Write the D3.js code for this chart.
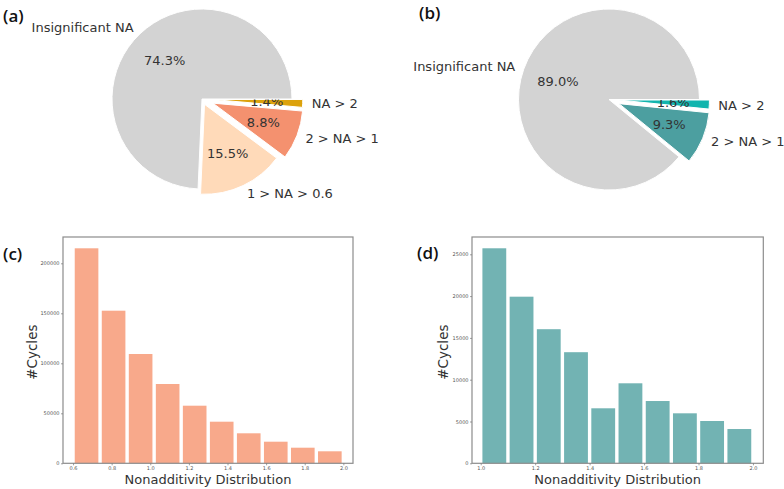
<!DOCTYPE html>
<html><head><meta charset="utf-8">
<script src="https://cdn.jsdelivr.net/npm/d3@7"></script>
<style>
body{margin:0;background:#fff;}
svg{display:block;font-family:"DejaVu Sans",sans-serif;}
</style></head>
<body>
<svg id="chart" width="784" height="489"></svg>
<script>
// ---------- data ----------
const pieALabels = ["NA > 2", "2 > NA > 1", "1 > NA > 0.6", "Insignificant NA"];
const pieAValues = [1.4, 8.8, 15.5, 74.3];
const pieBLabels = ["NA > 2", "2 > NA > 1", "Insignificant NA"];
const pieBValues = [1.6, 9.3, 89.0];

const histCEdges = [0.6, 0.74, 0.88, 1.02, 1.16, 1.30, 1.44, 1.58, 1.72, 1.86, 2.0];
const histCCounts = [215000, 152600, 109300, 79300, 57600, 41600, 30000, 21600, 15600, 12000];
const histCXTicks = [0.6, 0.8, 1.0, 1.2, 1.4, 1.6, 1.8, 2.0];
const histCYTicks = [0, 50000, 100000, 150000, 200000];

const histDEdges = [1.0, 1.1, 1.2, 1.3, 1.4, 1.5, 1.6, 1.7, 1.8, 1.9, 2.0];
const histDCounts = [25720, 19930, 16040, 13290, 6580, 9570, 7450, 5980, 5060, 4100];
const histDXTicks = [1.0, 1.2, 1.4, 1.6, 1.8, 2.0];
const histDYTicks = [0, 5000, 10000, 15000, 20000, 25000];

// ---------- styles ----------
const svg = d3.select("#chart");
const textCol = "#333";

function drawPie(cfg) {
  const g = svg.append("g").attr("transform", `translate(${cfg.cx},${cfg.cy})`);
  const pie = d3.pie().sort(null).value(d => d)
    .startAngle(Math.PI / 2).endAngle(Math.PI / 2 + 2 * Math.PI);
  const arcs = pie(cfg.values);
  const arc = d3.arc().innerRadius(0).outerRadius(cfg.r);
  arcs.forEach((a, i) => {
    const mid = (a.startAngle + a.endAngle) / 2;
    const off = cfg.explode[i] * cfg.r;
    const ox = Math.sin(mid) * off, oy = -Math.cos(mid) * off;
    const sg = g.append("g").attr("transform", `translate(${ox},${oy})`);
    sg.append("path").attr("d", arc(a)).attr("fill", cfg.colors[i])
      .attr("stroke", "#fff").attr("stroke-width", 1);
    const pr = cfg.r * 0.6;
    sg.append("text").attr("x", Math.sin(mid) * pr).attr("y", -Math.cos(mid) * pr)
      .attr("text-anchor", "middle").attr("dominant-baseline", "central")
      .attr("font-size", 13).attr("fill", textCol)
      .text(cfg.values[i].toFixed(1) + "%");
    const lr = cfg.r * 1.1;
    const lx = Math.sin(mid) * lr;
    sg.append("text").attr("x", lx).attr("y", -Math.cos(mid) * lr)
      .attr("text-anchor", lx > 0 ? "start" : "end").attr("dominant-baseline", "central")
      .attr("font-size", 13).attr("fill", textCol)
      .text(cfg.labels[i]);
  });
}

drawPie({cx: 202, cy: 99, r: 90, values: pieAValues, labels: pieALabels,
  colors: ["#dca20c", "#f4916f", "#ffdab9", "#d3d3d3"],
  explode: [0.12, 0.13, 0.065, 0]});
drawPie({cx: 609, cy: 99.5, r: 90.5, values: pieBValues, labels: pieBLabels,
  colors: ["#12b5ae", "#4c9fa0", "#d3d3d3"],
  explode: [0.11, 0.12, 0]});

function drawHist(cfg) {
  const x = d3.scaleLinear().domain(cfg.xDomain).range([cfg.x0, cfg.x1]);
  const y = d3.scaleLinear().domain(cfg.yDomain).range([cfg.y1, cfg.y0]);
  const g = svg.append("g");
  const gap = 3.4;
  g.selectAll("rect.bar").data(cfg.counts).join("rect").attr("class", "bar")
    .attr("x", (d, i) => x(cfg.edges[i]) + gap / 2)
    .attr("width", (d, i) => x(cfg.edges[i + 1]) - x(cfg.edges[i]) - gap)
    .attr("y", d => y(d)).attr("height", d => y(0) - y(d))
    .attr("fill", cfg.color);
  g.append("rect").attr("x", cfg.x0).attr("y", cfg.y0)
    .attr("width", cfg.x1 - cfg.x0).attr("height", cfg.y1 - cfg.y0)
    .attr("fill", "none").attr("stroke", "#8c8c8c").attr("stroke-width", 1.2);
  const xa = g.append("g").attr("transform", `translate(0,${cfg.y1})`)
    .call(d3.axisBottom(x).tickValues(cfg.xTicks).tickFormat(d3.format(".1f")).tickSize(2).tickPadding(1.5));
  const ya = g.append("g").attr("transform", `translate(${cfg.x0},0)`)
    .call(d3.axisLeft(y).tickValues(cfg.yTicks).tickFormat(d3.format("d")).tickSize(2).tickPadding(1.5));
  [xa, ya].forEach(a => {
    a.select(".domain").remove();
    a.selectAll("line").attr("stroke", "#777").attr("stroke-width", 0.7);
    a.selectAll("text").attr("font-size", 5).attr("fill", "#555").attr("font-family", "DejaVu Sans");
  });
  g.append("text").attr("transform", `translate(${cfg.ylx},${(cfg.y0 + cfg.y1) / 2 + 2}) rotate(-90)`)
    .attr("text-anchor", "middle").attr("dominant-baseline", "central")
    .attr("font-size", 13.5).attr("fill", textCol).text("#Cycles");
  g.append("text").attr("x", (cfg.x0 + cfg.x1) / 2).attr("y", 479)
    .attr("text-anchor", "middle").attr("dominant-baseline", "central")
    .attr("font-size", 13).attr("fill", textCol).text("Nonadditivity Distribution");
}

drawHist({x0: 63, x1: 353, y0: 237, y1: 463.3, xDomain: [0.548, 2.05], yDomain: [0, 226300],
  edges: histCEdges, counts: histCCounts, xTicks: histCXTicks, yTicks: histCYTicks,
  color: "#f8a98b", ylx: 32});
drawHist({x0: 472, x1: 763.3, y0: 237, y1: 463.3, xDomain: [0.968, 2.038], yDomain: [0, 27070],
  edges: histDEdges, counts: histDCounts, xTicks: histDXTicks, yTicks: histDYTicks,
  color: "#72b3b3", ylx: 443});

// panel letters
const letters = [["(a)", 3, 15], ["(b)", 419, 12], ["(c)", 3, 253], ["(d)", 417, 252]];
svg.selectAll("text.panel").data(letters).join("text").attr("class", "panel")
  .attr("x", d => d[1]).attr("y", d => d[2])
  .attr("dominant-baseline", "central")
  .attr("font-family", "'Open Sans', 'Noto Sans', sans-serif")
  .attr("font-size", 17).attr("font-weight", 600).attr("fill", "#111").text(d => d[0]);
</script>
</body></html>
